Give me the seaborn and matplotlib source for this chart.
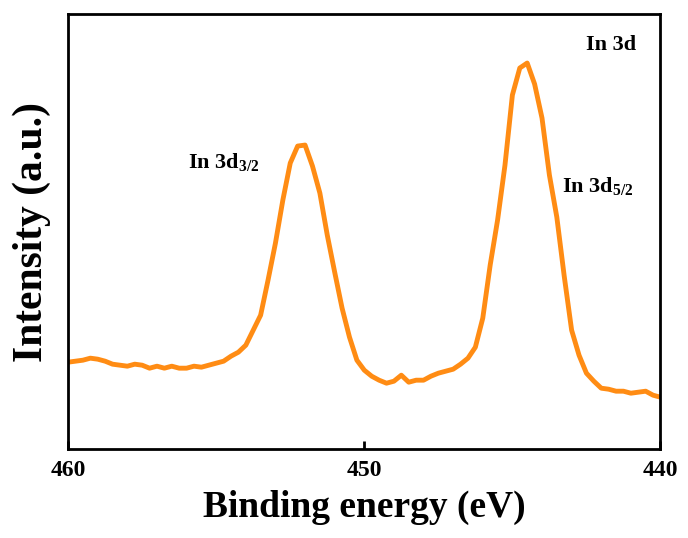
import numpy as np
import pandas as pd
import matplotlib
matplotlib.use("Agg")
import matplotlib.pyplot as plt
import seaborn as sns

# In 3d XPS spectrum (intensity in a.u.)
binding_energy = [460.0, 459.75, 459.5, 459.25, 459.0, 458.75, 458.5, 458.25, 458.0, 457.75,
                  457.5, 457.25, 457.0, 456.75, 456.5, 456.25, 456.0, 455.75, 455.5, 455.25,
                  455.0, 454.75, 454.5, 454.25, 454.0, 453.75, 453.5, 453.25, 453.0, 452.75,
                  452.5, 452.25, 452.0, 451.75, 451.5, 451.25, 451.0, 450.75, 450.5, 450.25,
                  450.0, 449.75, 449.5, 449.25, 449.0, 448.75, 448.5, 448.25, 448.0, 447.75,
                  447.5, 447.25, 447.0, 446.75, 446.5, 446.25, 446.0, 445.75, 445.5, 445.25,
                  445.0, 444.75, 444.5, 444.25, 444.0, 443.75, 443.5, 443.25, 443.0, 442.75,
                  442.5, 442.25, 442.0, 441.75, 441.5, 441.25, 441.0, 440.75, 440.5, 440.25,
                  440.0]
intensity = [87, 88, 89, 91, 90, 88, 85, 84, 83, 85,
             84, 81, 83, 81, 83, 81, 81, 83, 82, 84,
             86, 88, 93, 97, 104, 119, 134, 169, 206, 249,
             286, 303, 304, 283, 256, 214, 177, 141, 112, 89,
             79, 73, 69, 66, 68, 74, 67, 69, 69, 73,
             76, 78, 80, 85, 91, 102, 131, 184, 229, 284,
             354, 381, 386, 365, 331, 274, 232, 173, 119, 94,
             76, 68, 61, 60, 58, 58, 56, 57, 58, 54,
             52]

df = pd.DataFrame({"energy": binding_energy, "intensity": intensity})

sns.set_style("ticks")
plt.rcParams["font.family"] = ["Liberation Serif", "DejaVu Serif"]
plt.rcParams["font.weight"] = "bold"
plt.rcParams["text.color"] = "black"
plt.rcParams["axes.labelcolor"] = "black"
plt.rcParams["xtick.color"] = "black"
plt.rcParams["mathtext.fontset"] = "custom"
plt.rcParams["mathtext.rm"] = "Liberation Serif:bold"
plt.rcParams["mathtext.bf"] = "Liberation Serif:bold"

fig = plt.figure(figsize=(6.88, 5.38), dpi=100)
ax = fig.add_axes([0.099, 0.165, 0.861, 0.809])

sns.lineplot(data=df, x="energy", y="intensity", ax=ax, color="#ff8c14", linewidth=3.5)

ax.set_xlim(460, 440)
ax.set_ylim(0, 435)
ax.set_xticks([460, 450, 440])
ax.set_yticks([])
ax.tick_params(axis="x", direction="in", length=6, width=2, labelsize=17, pad=8)
for lab in ax.get_xticklabels():
    lab.set_fontweight("bold")
for sp in ax.spines.values():
    sp.set_linewidth(2)
    sp.set_color("black")

ax.set_xlabel("Binding energy (eV)", fontsize=27, fontweight="bold", labelpad=6)
ax.set_ylabel("Intensity (a.u.)", fontsize=30, fontweight="bold", labelpad=12)

ax.text(442.53, 399, "In 3d", fontsize=16, fontweight="bold", ha="left", va="baseline")
ax.text(455.95, 281, "In 3d$_{3/2}$", fontsize=16, fontweight="bold", ha="left", va="baseline")
ax.text(443.31, 257, "In 3d$_{5/2}$", fontsize=16, fontweight="bold", ha="left", va="baseline")

fig.savefig("out.png", dpi=100)
